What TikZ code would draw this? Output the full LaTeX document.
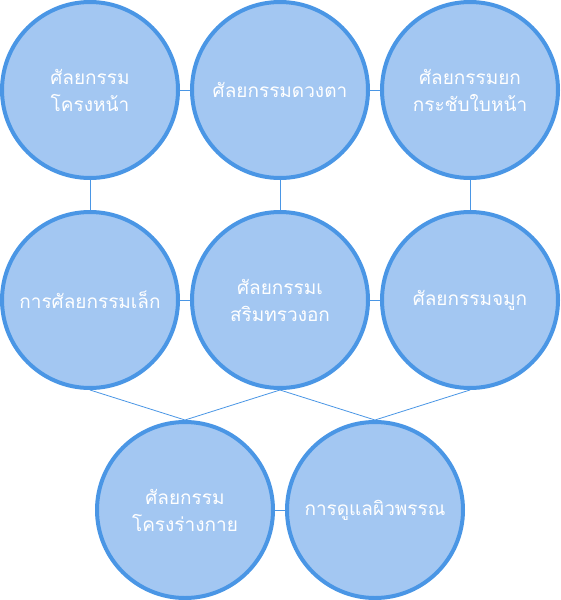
\documentclass[tikz,border=0pt]{standalone}
\usepackage{fontspec}
\newfontfamily\thaifont[Script=Thai]{Loma}
\definecolor{ring}{RGB}{74,150,229}
\definecolor{disc}{RGB}{163,199,242}
\tikzset{
	topic/.style = {circle, draw = ring, line width = 4pt, fill = disc, minimum size = 176pt, inner sep = 0pt, text = white, align = center, font = \thaifont\fontsize{19}{27}\selectfont},
	link/.style = {draw = ring, line width = 0.8pt}
}
\begin{document}
\begin{tikzpicture}[x=1pt,y=-1pt]
	\useasboundingbox (0,0) rectangle (560,600);
	\node (F1) at ( 90,  90)	[topic]	{ศัลยกรรม\\โครงหน้า};
	\node (F2) at (280,  90)	[topic]	{ศัลยกรรมดวงตา};
	\node (F3) at (470,  90)	[topic]	{ศัลยกรรมยก\\กระชับใบหน้า};
	\node (M1) at ( 90, 300)	[topic]	{การศัลยกรรมเล็ก};
	\node (M2) at (280, 300)	[topic]	{ศัลยกรรมเ\\สริมทรวงอก};
	\node (M3) at (470, 300)	[topic]	{ศัลยกรรมจมูก};
	\node (B1) at (185, 510)	[topic]	{ศัลยกรรม\\โครงร่างกาย};
	\node (B2) at (375, 510)	[topic]	{การดูแลผิวพรรณ};
	\draw[link] (F1) -- (F2);
	\draw[link] (F2) -- (F3);
	\draw[link] (F1) -- (M1);
	\draw[link] (F2) -- (M2);
	\draw[link] (F3) -- (M3);
	\draw[link] (M1) -- (M2);
	\draw[link] (M2) -- (M3);
	\draw[link] (M1.south) -- (B1.north);
	\draw[link] (M2.south) -- (B1.north);
	\draw[link] (M2.south) -- (B2.north);
	\draw[link] (M3.south) -- (B2.north);
	\draw[link] (B1) -- (B2);
\end{tikzpicture}
\end{document}
